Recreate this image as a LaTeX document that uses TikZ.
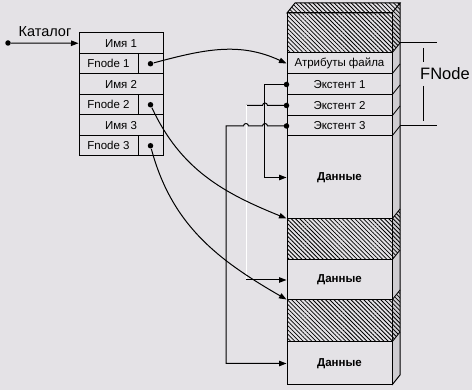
\documentclass[tikz,border=0pt]{standalone}
\usepackage{fontspec}
\setmainfont{Liberation Sans}
\usetikzlibrary{arrows.meta,patterns.meta}
\definecolor{paper}{HTML}{E4E2E6}
\definecolor{sidefill}{HTML}{CFCDD1}
\tikzset{hatch/.style={pattern={Lines[angle=-45,distance=3pt,line width=.8pt]}}}

\begin{document}
\begin{tikzpicture}[x=1pt,y=1pt,line width=1pt,>={Triangle[length=7.5pt,width=5.5pt]},
 cell/.style={draw,inner sep=0pt,minimum height=20.5pt,font=\fontsize{11.5}{13}\selectfont},
 blk/.style={draw,inner sep=0pt,minimum width=105pt,font=\fontsize{11.5}{13}\selectfont},
 dot/.style={circle,fill,inner sep=0pt,minimum size=5.5pt}]
\fill[paper] (0,0) rectangle (472,390);
\useasboundingbox (0,0) rectangle (472,390);

% catalog
\node[cell,minimum width=84pt] (nm1) at (121,346.75) {Имя 1};
\node[cell,minimum width=59pt] (fn1) at (108.5,326.25) {Fnode 1};
\node[cell,minimum width=25pt] (pt1) at (150.5,326.25) {};
\node[cell,minimum width=84pt] (nm2) at (121,305.75) {Имя 2};
\node[cell,minimum width=59pt] (fn2) at (108.5,285.25) {Fnode 2};
\node[cell,minimum width=25pt] (pt2) at (150.5,285.25) {};
\node[cell,minimum width=84pt] (nm3) at (121,264.75) {Имя 3};
\node[cell,minimum width=59pt] (fn3) at (108.5,244.25) {Fnode 3};
\node[cell,minimum width=25pt] (pt3) at (150.5,244.25) {};
\node[dot] (d1) at (pt1.center) {};
\node[dot] (d2) at (pt2.center) {};
\node[dot] (d3) at (pt3.center) {};
\node[dot] (cat) at (8,347) {};
\node[font=\fontsize{14.5}{16}\selectfont] (catlbl) at (45,358) {Каталог};
\draw[->] (cat) -- (nm1.west);

% file column, side and top
\fill[sidefill] (392,377) -- (400,387) -- (400,15) -- (392,5) -- cycle;
\fill[hatch] (392,377) -- (400,387) -- (400,347) -- (392,337) -- cycle;
\fill[hatch] (392,171) -- (400,181) -- (400,140) -- (392,130) -- cycle;
\fill[hatch] (392,90) -- (400,100) -- (400,58) -- (392,48) -- cycle;
\draw[hatch] (287,377) -- (295,387) -- (400,387) -- (392,377) -- cycle;
\draw (400,387) -- (400,15) -- (392,5);
\foreach \yy in {337,316,295,274,254,171,130,90,48}
  \draw[line width=.8pt] (392,\yy) -- (400,\yy+10);

\node[blk,hatch,minimum height=40pt] (top) at (339.5,357) {};
\node[blk,minimum height=21pt] (attr) at (339.5,326.5) {Атрибуты файла};
\node[blk,minimum height=21pt] (ext1) at (339.5,305.5) {Экстент 1};
\node[blk,minimum height=21pt] (ext2) at (339.5,284.5) {Экстент 2};
\node[blk,minimum height=20pt] (ext3) at (339.5,264) {Экстент 3};
\node[blk,minimum height=83pt,font=\fontsize{11.5}{13}\selectfont\bfseries] (dat1) at (339.5,212.5) {Данные};
\node[blk,hatch,minimum height=41pt] (hat2) at (339.5,150.5) {};
\node[blk,minimum height=40pt,font=\fontsize{11.5}{13}\selectfont\bfseries] (dat2) at (339.5,110) {Данные};
\node[blk,hatch,minimum height=42pt] (hat3) at (339.5,69) {};
\node[blk,minimum height=43pt,font=\fontsize{11.5}{13}\selectfont\bfseries] (dat3) at (339.5,26.5) {Данные};

% FNode bracket
\draw (400,347) -- (437,347) (400,264) -- (437,264);
\node[font=\fontsize{16.5}{18}\selectfont] (fnlbl) at (445,316) {FNode};
\draw (423,342) -- (423,328) (423,304) -- (423,269);

% extents to data
\node[dot] (x1) at (ext1.west) {};
\node[dot] (x2) at (ext2.west) {};
\node[dot] (x3) at (ext3.west) {};
\draw[->] (x1.center) -- ++(-22,0) |- (dat1.west);
\draw (x2.center) -- (267.5,284.5) arc[start angle=0,end angle=180,radius=2.5pt] -- (246,284.5);
\draw[white,line width=.6pt] (246,284.5) -- (246,110);
\draw[->] (246,110) -- (dat2.west);
\draw[->] (x3.center) -- (267.5,264) arc[start angle=0,end angle=180,radius=2.5pt]
  -- (248.5,264) arc[start angle=0,end angle=180,radius=2.5pt] -- (226,264) |- (dat3.west);

% catalog to file
\draw[->] (d1) to[out=15,in=155] (attr.west);
\draw[->] (d2) to[out=-65,in=158] (hat2.north west);
\draw[->] (d3) to[out=-75,in=150] (hat3.north west);
\end{tikzpicture}
\end{document}
